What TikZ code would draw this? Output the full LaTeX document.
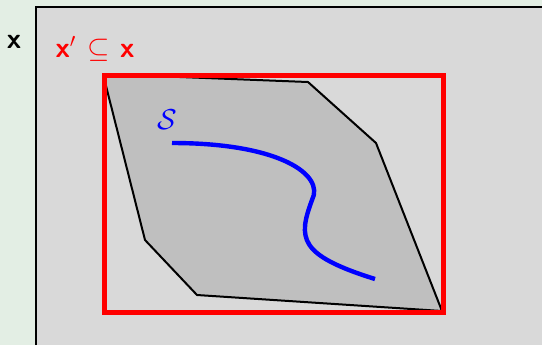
\documentclass[tikz,border=0pt]{standalone}
\usepackage{amssymb}
\usetikzlibrary{positioning}
\definecolor{pagebg}{HTML}{E3EEE4}
\definecolor{spacebg}{HTML}{D9D9D9}
\definecolor{regionbg}{HTML}{BFBFBF}
\tikzset{
  setlabel/.style={font=\Large\sffamily\bfseries,inner sep=1pt},
  subset/.style={draw=red,line width=2.5pt},
  region/.style={draw=black,fill=regionbg,line width=1pt,line join=round},
  manifold/.style={draw=blue,line width=2.2pt},
}

\begin{document}
\begin{tikzpicture}[x=0.5pt,y=-0.5pt]
  \useasboundingbox[fill=pagebg] (0,0) rectangle (542,345);

  % input space
  \fill[spacebg] (36,7) rectangle (542,345);
  \draw[line width=0.8pt] (36,345) -- (36,7) -- (542,7);
  \node[setlabel] (xall) at (14,42) {x};
  \node[setlabel,text=red] (xsub) at (95,49) {x$'$ $\subseteq$ x};

  % region covered by the data
  \draw[region] (103,74) -- (308,82) -- (376,143) -- (442,311) -- (197,295) -- (145,240) -- cycle;

  % the subset box
  \draw[subset] (104,75) rectangle (443,312);

  % the manifold
  \draw[manifold] (172,143) .. controls (280,143) and (325,175) .. (312,200)
    .. controls (298,238) and (298,255) .. (375,279);
  \node[text=blue,font=\Large] (mfd) at (167,120) {$\mathcal{S}$};
\end{tikzpicture}
\end{document}
